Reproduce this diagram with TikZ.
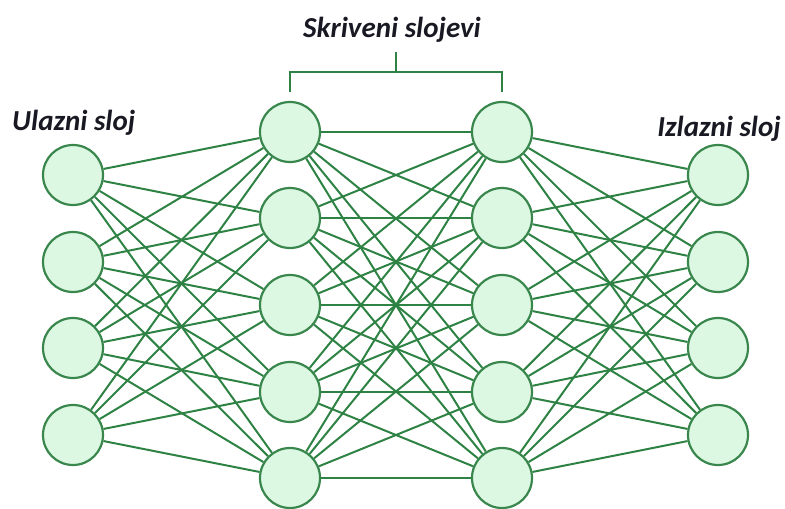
\documentclass[tikz,border=0pt]{standalone}
\usepackage{fontspec}
\setmainfont{Carlito}
\begin{document}
\begin{tikzpicture}[x=1pt,y=-1pt,
  neuron/.style={circle,draw=nstroke,fill=nfill,line width=2.2pt,minimum size=60pt,inner sep=0pt},
  link/.style={draw=nlink,line width=2pt},
  title/.style={font=\fontsize{29}{34}\selectfont\bfseries\itshape,text=ntext,inner sep=0pt}]
\definecolor{nstroke}{RGB}{58,135,78}
\definecolor{nfill}{RGB}{221,248,226}
\definecolor{nlink}{RGB}{45,130,68}
\definecolor{ntext}{RGB}{25,25,35}
\useasboundingbox (0,0) rectangle (785,509);

% input layer
\foreach \i/\y in {1/175,2/262,3/348,4/435}
  \node[neuron] (in\i) at (73,\y) {};
% hidden layers
\foreach \i/\y in {1/132,2/218,3/305,4/392,5/478}{
  \node[neuron] (ha\i) at (290,\y) {};
  \node[neuron] (hb\i) at (502,\y) {};
}
% output layer
\foreach \i/\y in {1/175,2/262,3/348,4/435}
  \node[neuron] (out\i) at (718,\y) {};

% full connections between consecutive layers
\foreach \i in {1,...,4}
  \foreach \j in {1,...,5}
    \draw[link] (in\i) -- (ha\j);
\foreach \i in {1,...,5}
  \foreach \j in {1,...,5}
    \draw[link] (ha\i) -- (hb\j);
\foreach \i in {1,...,5}
  \foreach \j in {1,...,4}
    \draw[link] (hb\i) -- (out\j);

% bracket over the hidden layers
\coordinate (bl) at (290,92);
\coordinate (br) at (502,92);
\coordinate (bm) at (396,72);
\coordinate (bt) at (396,52);
\draw[nlink,line width=2pt] (bl) |- (bm) -| (br);
\draw[nlink,line width=2pt] (bm) -- (bt);

% labels
\node[title,anchor=base] (lh) at (392,37) {Skriveni slojevi};
\node[title,anchor=base west] (lin) at (12,130) {Ulazni sloj};
\node[title,anchor=base east] (lout) at (781,136) {Izlazni sloj};
\end{tikzpicture}
\end{document}
